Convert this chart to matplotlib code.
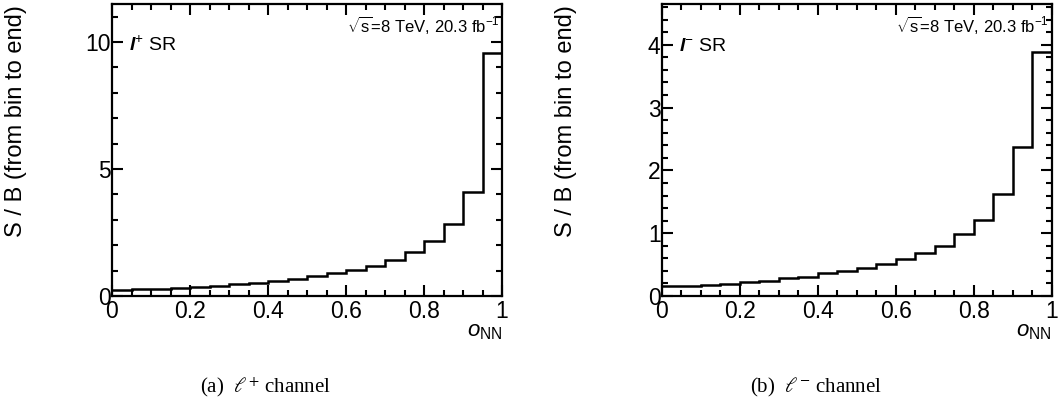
import numpy as np
import matplotlib
matplotlib.use("Agg")
import matplotlib.pyplot as plt
from matplotlib.ticker import MultipleLocator

plt.rcParams["font.family"] = ["Liberation Sans", "DejaVu Sans"]
plt.rcParams["mathtext.fontset"] = "custom"
plt.rcParams["mathtext.rm"] = "Liberation Sans"
plt.rcParams["mathtext.it"] = "Liberation Sans:italic"
plt.rcParams["mathtext.bf"] = "Liberation Sans:bold"
plt.rcParams["mathtext.bfit"] = "Liberation Sans:italic:bold"

# bin edges of the NN output, 20 bins
edges = np.linspace(0.0, 1.0, 21)

# S/B integrated from bin to end, l+ channel
sb_plus = [0.25, 0.26, 0.26, 0.30, 0.37, 0.41, 0.46, 0.52, 0.60, 0.68,
           0.77, 0.89, 1.02, 1.19, 1.42, 1.72, 2.15, 2.83, 4.10, 9.58]
# S/B integrated from bin to end, l- channel
sb_minus = [0.16, 0.16, 0.17, 0.19, 0.22, 0.245, 0.28, 0.31, 0.36, 0.40,
            0.45, 0.51, 0.59, 0.68, 0.80, 0.98, 1.21, 1.62, 2.38, 3.89]

W, H = 1059, 403


def draw_panel(ax, values, ymax, major, minor, region, caption, cap_x, ylab_x):
    ax.stairs(values, edges, baseline=None, color="black", linewidth=1.8)
    ax.set_xlim(0, 1)
    ax.set_ylim(0, ymax)
    ax.xaxis.set_major_locator(MultipleLocator(0.2))
    ax.xaxis.set_minor_locator(MultipleLocator(0.05))
    ax.yaxis.set_major_locator(MultipleLocator(major))
    ax.yaxis.set_minor_locator(MultipleLocator(minor))
    ax.xaxis.set_major_formatter(plt.FuncFormatter(lambda v, p: "%g" % round(v, 2)))
    ax.yaxis.set_major_formatter(plt.FuncFormatter(lambda v, p: "%g" % round(v, 2)))
    ax.tick_params(which="both", direction="in", top=True, right=True,
                   labelsize=16.5, width=1.5)
    ax.tick_params(which="major", length=8)
    ax.tick_params(which="minor", length=4.5)
    ax.tick_params(axis="y", pad=1)
    ax.tick_params(axis="x", pad=3)
    for s in ax.spines.values():
        s.set_linewidth(1.6)

    ax.text(0.993, 0.904, r"$\sqrt{\mathrm{s}}$=8 TeV, 20.3 fb$^{-1}$", transform=ax.transAxes,
            ha="right", va="baseline", fontsize=12)
    ax.text(0.044, 0.839, region, transform=ax.transAxes,
            ha="left", va="baseline", fontsize=14)
    ax.text(1.0, -0.14, r"$o_{\rm NN}$", transform=ax.transAxes,
            ha="right", va="baseline", fontsize=16)

    fig = ax.figure
    fig.text(ylab_x / W, 1 - 5 / H, "S / B (from bin to end)", rotation=90,
             ha="center", va="top", fontsize=17)
    fig.text(cap_x / W, 1 - 387 / H, caption, ha="center", va="center",
             fontsize=15, family="Liberation Serif", math_fontfamily="stix")


fig = plt.figure(figsize=(W / 100, H / 100), dpi=100)
ax1 = fig.add_axes([112 / W, 107 / H, 390 / W, 292 / H])
ax2 = fig.add_axes([662 / W, 107 / H, 389.5 / W, 292 / H])

draw_panel(ax1, sb_plus, 11.5, 5, 1, r"$\mathbfit{l}^{+}$ SR",
           r"(a)  $\ell^{+}$ channel", 265, 16)
draw_panel(ax2, sb_minus, 4.65, 1, 0.2, r"$\mathbfit{l}^{-}$ SR",
           r"(b)  $\ell^{-}$ channel", 816, 566)

fig.savefig("out.png", dpi=100)
